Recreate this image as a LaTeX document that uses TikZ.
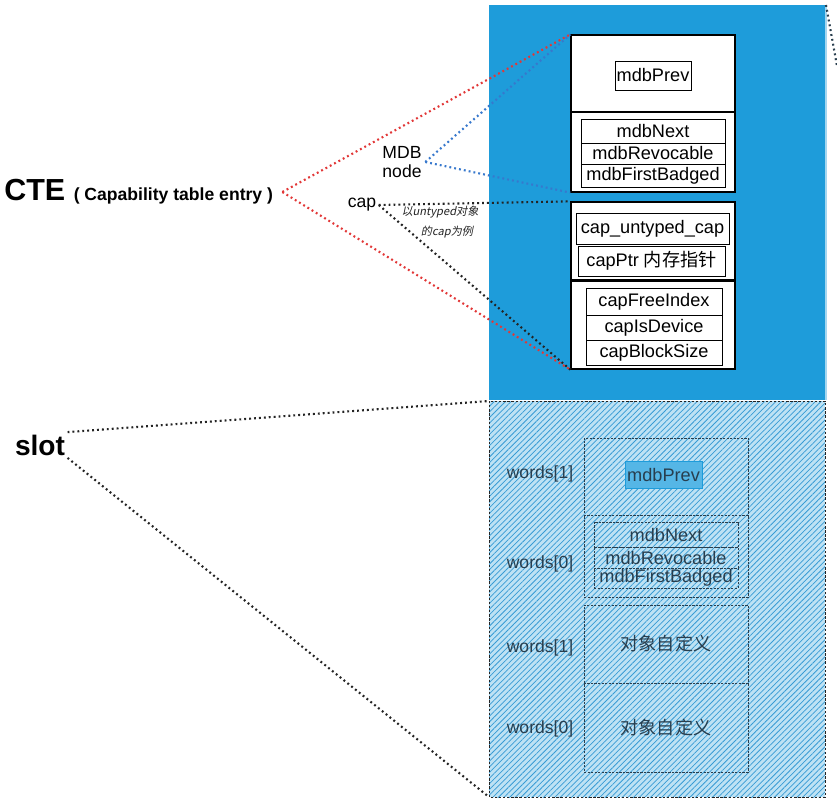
\documentclass[tikz,border=0pt]{standalone}
\usepackage{fontspec}
\setmainfont{Liberation Sans}
\newfontfamily\cjk{Noto Sans CJK SC}
\newfontfamily\cjkit[FakeSlant=0.2]{Noto Sans CJK SC}
\usetikzlibrary{patterns.meta}

\definecolor{capblue}{RGB}{30,156,218}
\definecolor{hatchbg}{RGB}{190,226,244}
\definecolor{hatchln}{RGB}{55,155,212}
\definecolor{prevblue}{RGB}{85,182,230}
\definecolor{ctered}{RGB}{226,55,55}
\definecolor{mdbblue}{RGB}{55,120,205}
\definecolor{inkgray}{RGB}{35,35,35}
\definecolor{fadeink}{RGB}{40,62,78}

\tikzset{
  fld/.style 2 args={draw, line width=0.7pt, minimum width=#1*0.3mm,
    minimum height=#2*0.3mm, inner sep=0pt, font=\fontsize{15.5}{17}\selectfont},
  wordbox/.style 2 args={fld={#1}{#2}, draw=fadeink, dash pattern=on 2pt off 1pt,
    text=fadeink},
  dotline/.style={line width=1.8pt, dash pattern=on 1.6pt off 2.6pt},
  wordlbl/.style={text=fadeink, font=\fontsize{15}{17}\selectfont},
}

\begin{document}
\begin{tikzpicture}[x=0.3mm, y=-0.3mm]

\useasboundingbox[fill=white] (0,0) rectangle (837,800);

% capability slot areas
\fill[capblue] (489,5) rectangle (826,400);
\draw[capblue!40!white, line width=1pt] (826,5) -- (826,400);
\fill[hatchbg] (489,401) rectangle (825,797);
\fill[pattern={Lines[angle=45, distance=3.4pt, line width=0.65pt]}, pattern color=hatchln]
  (489,401) rectangle (825,797);
\draw[inkgray, line width=0.6pt, dash pattern=on 2pt off 1.5pt] (489,401) rectangle (825,797);

% left labels
\node[anchor=west, inner sep=0pt, outer sep=8pt] (cte) at (-5,192)
  {\fontsize{26}{30}\selectfont\bfseries CTE\ \fontsize{15}{17}\selectfont ( Capability table entry )};
\node[align=center, inner sep=3pt, font=\fontsize{15}{17}\selectfont] (mdbnode) at (402,162) {MDB\\node};
\node[inner sep=2pt, font=\fontsize{15}{17}\selectfont] (cap) at (362,205) {cap};
\node[text=inkgray, font=\fontsize{9.5}{11}\selectfont\cjkit] (note1) at (440,212) {以untyped对象};
\node[text=inkgray, font=\fontsize{9.5}{11}\selectfont\cjkit] (note2) at (447,232) {的cap为例};
\node[inner sep=2pt, font=\fontsize{24}{28}\selectfont\bfseries] (slot) at (40,445) {slot};

% upper boxes
\node[fld={164}{77}, fill=white, line width=1.1pt] (mdbup) at (653,73.5) {};
\node[fld={76}{29}] (prevA) at (653,75.5) {mdbPrev};
\node[fld={164}{80}, fill=white, line width=1.1pt] (mdblow) at (653,152) {};
\node[fld={144}{24}] (nextA) at (653,131) {mdbNext};
\node[fld={144}{21}] (revA) at (653,153.5) {mdbRevocable};
\node[fld={144}{23}] (badgeA) at (653,175.5) {mdbFirstBadged};
\node[fld={164}{78}, fill=white, line width=1.1pt] (capup) at (653,241) {};
\node[fld={153}{31}] (untyped) at (652.5,228.5) {cap\_untyped\_cap};
\node[fld={147}{30}] (capptr) at (651.5,261) {capPtr {\cjk 内存指针}};
\node[fld={164}{88}, fill=white, line width=1.1pt] (caplow) at (653,325) {};
\node[fld={136}{27}] (freeidx) at (654,301.5) {capFreeIndex};
\node[fld={136}{25}] (isdev) at (654,327.5) {capIsDevice};
\node[fld={136}{25}] (blksize) at (654,352.5) {capBlockSize};

% lower boxes
\node[wordbox={164}{77}] (word1a) at (666,476.5) {};
\node[fld={77}{27}, fill=prevblue, draw=capblue, text=fadeink] (prevB) at (663.5,474.5) {mdbPrev};
\node[wordbox={164}{82}] (word0a) at (666,556) {};
\node[wordbox={144}{25}] (nextB) at (666,534.5) {mdbNext};
\node[wordbox={144}{21}] (revB) at (666,557.5) {mdbRevocable};
\node[wordbox={144}{20}] (badgeB) at (666,578) {mdbFirstBadged};
\node[wordbox={164}{78}] (word1b) at (666,644) {\cjk 对象自定义};
\node[wordbox={164}{89}] (word0b) at (666,727.5) {\cjk 对象自定义};

\node[wordlbl] (w1a) at (540,474) {words[1]};
\node[wordlbl] (w0a) at (540,564) {words[0]};
\node[wordlbl] (w1b) at (540,648) {words[1]};
\node[wordlbl] (w0b) at (540,729) {words[0]};

% dotted connectors
\coordinate (slotnw) at (489,401);
\coordinate (slotsw) at (489,797);
\coordinate (edgeend) at (837,66);
\draw[dotline, ctered] (cte.east) -- (mdbup.north west);
\draw[dotline, ctered] (cte.east) -- (caplow.south west);
\draw[dotline, mdbblue] (mdbnode.east) -- (mdbup.north west);
\draw[dotline, mdbblue] (mdbnode.east) -- (mdblow.south west);
\draw[dotline, inkgray] (cap.east) -- (capup.north west);
\draw[dotline, inkgray] (cap.east) -- (caplow.south west);
\draw[dotline, inkgray] (slot.north east) -- (slotnw);
\draw[dotline, inkgray] (slot.south east) -- (slotsw);
\draw[dotline, fadeink] (826,5) -- (edgeend);

\end{tikzpicture}
\end{document}
